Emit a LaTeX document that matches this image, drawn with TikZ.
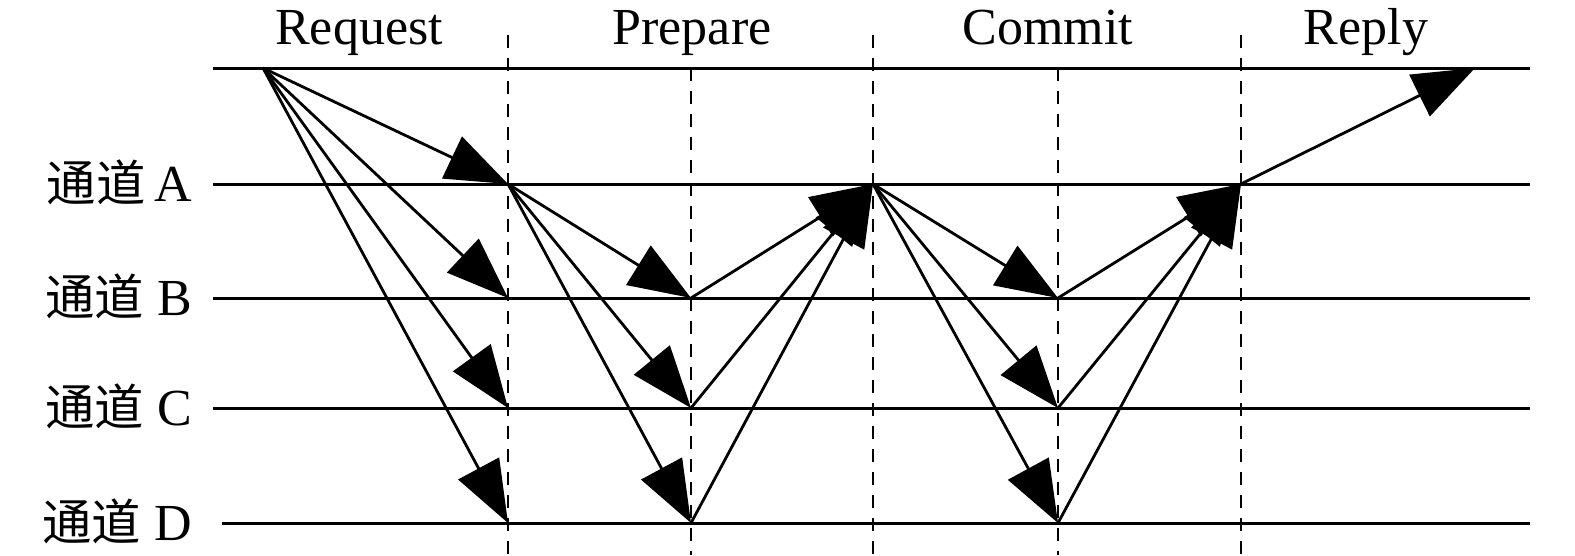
\documentclass[tikz,border=0pt]{standalone}
\usepackage{fontspec}
\setmainfont{Liberation Serif}
\newfontfamily\cjk{Noto Sans CJK SC}[Scale=0.95]
\usetikzlibrary{arrows.meta}
\begin{document}
\begin{tikzpicture}[x=1pt,y=-1pt,
  lane/.style={line width=3pt},
  phase/.style={line width=2.8pt, dash pattern=on 13pt off 10pt},
  msg/.style={line width=2.8pt, -{Triangle[length=62pt,width=46pt]}},
  title/.style={font=\fontsize{52}{52}\selectfont, inner sep=0pt, anchor=base},
  chan/.style={font=\fontsize{52}{52}\selectfont, inner sep=0pt, anchor=base east}]
\useasboundingbox (0,0) rectangle (1575,555);
% phase separators
\foreach \n/\x/\y in {s1/508/35,s2/691/68,s3/873/35,s4/1058/68,s5/1241/35}{
  \coordinate (\n t) at (\x,\y);
  \coordinate (\n b) at (\x,555);
  \draw[phase] (\n t) -- (\n b);
}
% lanes
\coordinate (L0a) at (213,68);  \coordinate (L0b) at (1530,68);
\coordinate (LAa) at (213,184); \coordinate (LAb) at (1530,184);
\coordinate (LBa) at (213,298); \coordinate (LBb) at (1530,298);
\coordinate (LCa) at (213,408); \coordinate (LCb) at (1530,408);
\coordinate (LDa) at (222,523); \coordinate (LDb) at (1530,523);
\foreach \l in {0,A,B,C,D}{\draw[lane] (L\l a) -- (L\l b);}
% titles
\node[title] (req) at (359,44) {Request};
\node[title] (pre) at (692,44) {Prepare};
\node[title] (com) at (1048,44) {Commit};
\node[title] (rep) at (1366,44) {Reply};
% channel labels
\node[chan] (chA) at (192,201) {{\cjk 通道}\,A};
\node[chan] (chB) at (192,315) {{\cjk 通道}~B};
\node[chan] (chC) at (192,425) {{\cjk 通道}~C};
\node[chan] (chD) at (192,540) {{\cjk 通道}~D};
% points
\coordinate (c0) at (263,68);
\coordinate (rA) at (508,184); \coordinate (rB) at (508,298); \coordinate (rC) at (508,408); \coordinate (rD) at (508,523);
\coordinate (pB) at (691,298); \coordinate (pC) at (691,408); \coordinate (pD) at (691,523);
\coordinate (cA) at (873,184);
\coordinate (mB) at (1058,298); \coordinate (mC) at (1058,408); \coordinate (mD) at (1058,523);
\coordinate (yA) at (1241,184);
\coordinate (end) at (1475,68);
% request
\foreach \t in {rA,rB,rC,rD}{\draw[msg] (c0) -- (\t);}
% prepare
\foreach \t in {pB,pC,pD}{\draw[msg] (rA) -- (\t);}
\foreach \t in {pB,pC,pD}{\draw[msg] (\t) -- (cA);}
% commit
\foreach \t in {mB,mC,mD}{\draw[msg] (cA) -- (\t);}
\foreach \t in {mB,mC,mD}{\draw[msg] (\t) -- (yA);}
% reply
\draw[msg] (yA) -- (end);
\end{tikzpicture}
\end{document}
